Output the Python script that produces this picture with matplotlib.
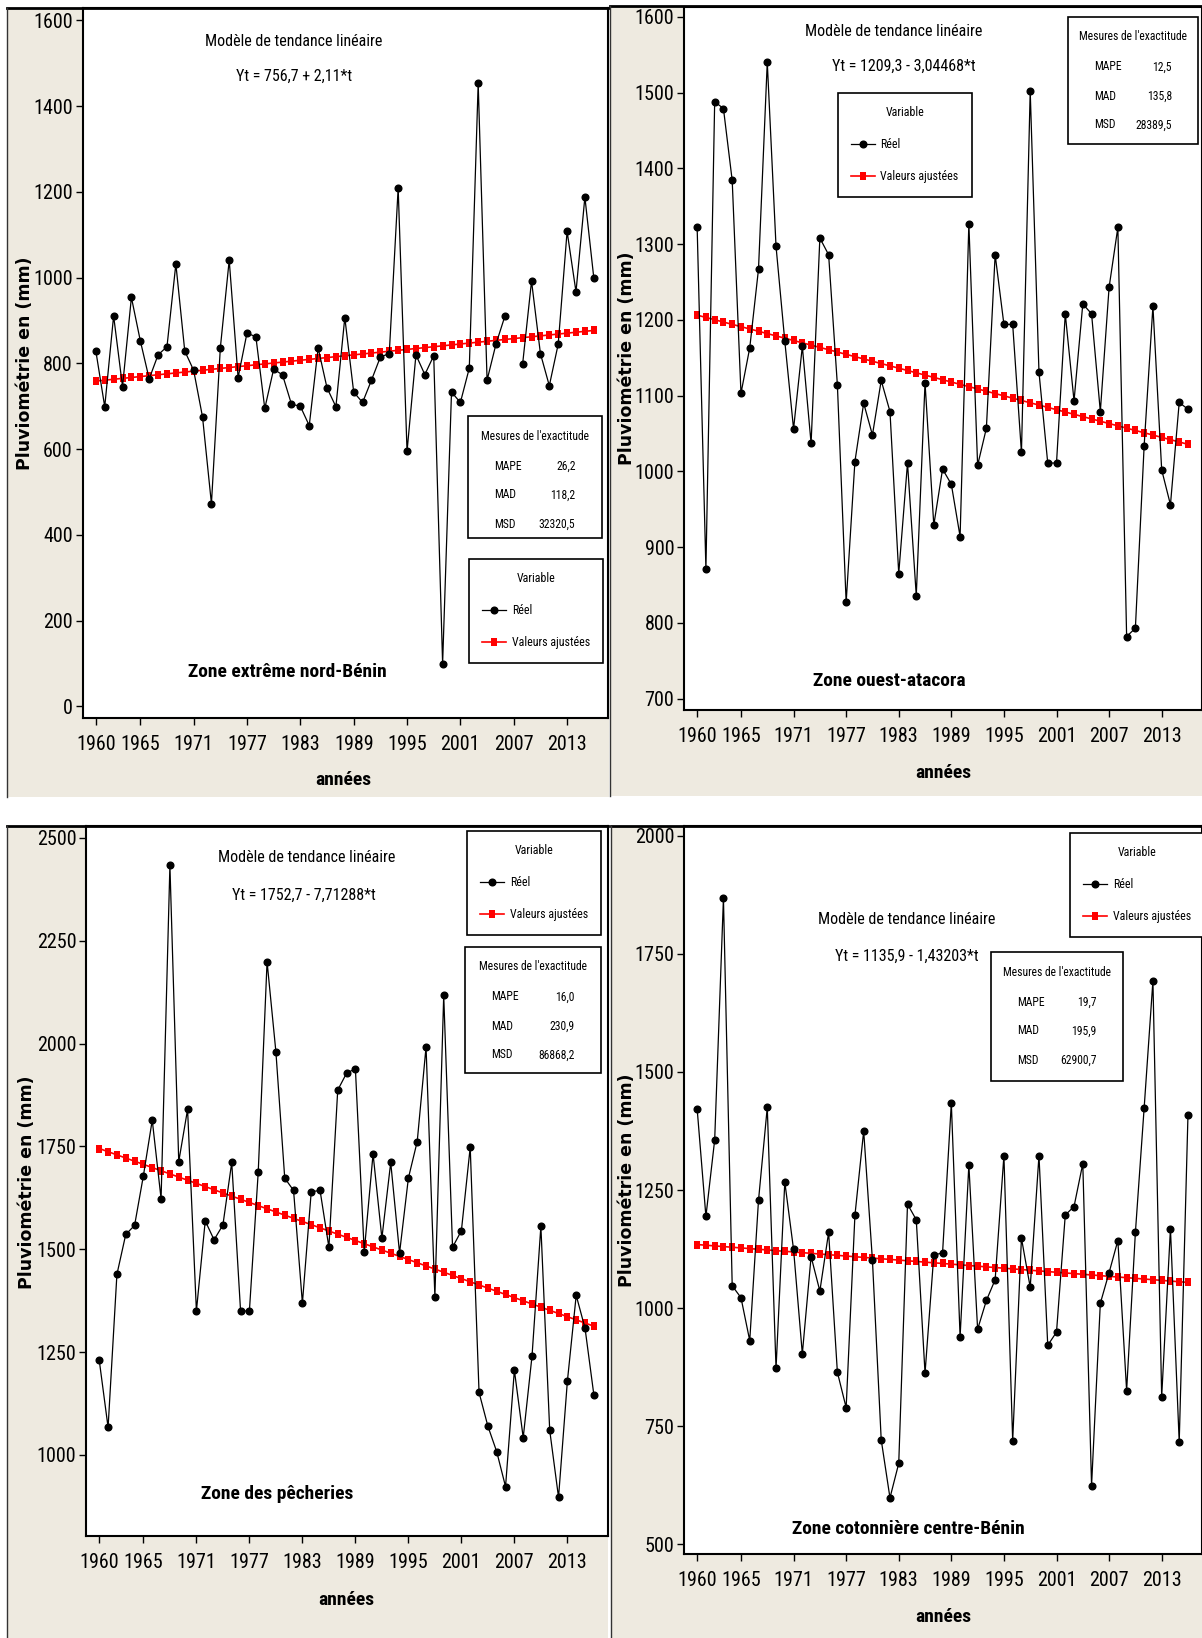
import matplotlib
matplotlib.use("Agg")
import matplotlib.pyplot as plt
import numpy as np
from matplotlib import font_manager
from matplotlib.patches import Rectangle
from matplotlib.lines import Line2D

# police étroite si disponible
installees = {f.name for f in font_manager.fontManager.ttflist}
if 'Roboto Condensed' in installees:
    police, k = 'Roboto Condensed', 1.0
elif 'Liberation Sans Narrow' in installees:
    police, k = 'Liberation Sans Narrow', 1.0
else:
    police, k = 'Liberation Sans', 0.85
plt.rcParams['font.family'] = [police, 'DejaVu Sans']

# --- Données ---
annees = np.arange(1960, 2017)
ticks_annees = [1960, 1965, 1971, 1977, 1983, 1989, 1995, 2001, 2007, 2013]

zones = ["Zone extrême nord-Bénin", "Zone ouest-atacora",
         "Zone des pêcheries", "Zone cotonnière centre-Bénin"]

# Zone extrême nord-Bénin (2007 manquant)
pluie_nord = [829, 699, 911, 746, 954, 853, 764, 820, 839, 1032,
              829, 784, 675, 473, 836, 1041, 767, 871, 862, 695,
              787, 773, 705, 700, 655, 836, 743, 699, 907, 733,
              709, 761, 815, 823, 1209, 595, 820, 774, 818, 100,
              733, 709, 789, 1453, 761, 845, 910, np.nan, 799, 992,
              823, 748, 845, 1108, 967, 1188, 1000]

pluie_atacora = [1322, 871, 1488, 1479, 1384, 1103, 1163, 1267, 1540, 1297,
                 1172, 1056, 1165, 1037, 1308, 1286, 1114, 827, 1013, 1090,
                 1048, 1120, 1079, 865, 1011, 836, 1117, 929, 1003, 983,
                 914, 1327, 1008, 1057, 1286, 1194, 1194, 1025, 1502, 1131,
                 1011, 1011, 1208, 1093, 1221, 1208, 1079, 1243, 1322, 782,
                 793, 1034, 1218, 1002, 956, 1091, 1082]

pluie_pecheries = [1230, 1067, 1439, 1536, 1558, 1679, 1814, 1623, 2433, 1713,
                   1840, 1350, 1569, 1523, 1559, 1711, 1350, 1350, 1688, 2199,
                   1980, 1673, 1643, 1369, 1640, 1643, 1505, 1887, 1928, 1939,
                   1494, 1732, 1527, 1711, 1491, 1673, 1762, 1992, 1385, 2117,
                   1505, 1545, 1748, 1152, 1070, 1008, 923, 1206, 1042, 1241,
                   1556, 1060, 897, 1179, 1388, 1308, 1146]

pluie_coton = [1422, 1194, 1356, 1868, 1047, 1022, 931, 1228, 1425, 872,
               1267, 1124, 903, 1109, 1036, 1160, 864, 789, 1196, 1375,
               1101, 721, 598, 671, 1220, 1187, 862, 1112, 1117, 1434,
               939, 1303, 955, 1016, 1060, 1323, 719, 1148, 1044, 1323,
               921, 949, 1197, 1215, 1306, 624, 1010, 1075, 1143, 825,
               1160, 1424, 1693, 812, 1168, 716, 1409]

series = [pluie_nord, pluie_atacora, pluie_pecheries, pluie_coton]

# Modèle de tendance linéaire Yt = a + b*t
intercepts = [756.7, 1209.3, 1752.7, 1135.9]
pentes = [2.11, -3.04468, -7.71288, -1.43203]
equations = ["Yt = 756,7 + 2,11*t", "Yt = 1209,3 - 3,04468*t",
             "Yt = 1752,7 - 7,71288*t", "Yt = 1135,9 - 1,43203*t"]

mape = ["26,2", "12,5", "16,0", "19,7"]
mad = ["118,2", "135,8", "230,9", "195,9"]
msd = ["32320,5", "28389,5", "86868,2", "62900,7"]

yticks = [np.arange(0, 1601, 200), np.arange(700, 1601, 100),
          np.arange(1000, 2501, 250), np.arange(500, 2001, 250)]

# --- Mise en page (pixels) ---
W, H = 1202, 1638
BEIGE = '#EEEAE0'
# petit rectangle vertical pour les valeurs ajustées
CARRE = [(-0.39, -0.5), (0.39, -0.5), (0.39, 0.5), (-0.39, 0.5), (-0.39, -0.5)]

def fx(x):
    return x / W

def fy(y):
    return 1 - y / H

panneaux = [(7, 8, 609, 797), (610, 6, 1202, 796),
            (7, 826, 608, 1638), (611, 826, 1202, 1638)]
axes_px = [(82.5, 8, 608, 718), (684, 7, 1202, 710),
           (86, 826, 608, 1536), (684, 826, 1202, 1554)]
ylims = [(-27, 1629), (685, 1613), (803, 2529), (479, 2021)]
pos_modele = [(294, 42), (894, 31), (307, 858), (907, 920)]
pos_eq = [(294, 76), (904, 66), (304, 895), (907, 956)]
pos_zone = [(287, 672), (889, 681), (277, 1494), (908, 1529)]
pos_xlab = [(343, 780), (943, 773), (346, 1600), (943, 1617)]
pos_ylab = [(25, 363), (627, 358), (27, 1182), (627, 1180)]
pos_leg = [(469, 559), (837.5, 93), (467, 831), (1070, 833)]
pos_mes = [(468, 416, 601.5, 538), (1068, 17, 1198, 144),
           (465, 947, 600.5, 1073), (991, 952, 1122.6, 1081)]

fig = plt.figure(figsize=(W / 100, H / 100), dpi=100)
fig.patch.set_facecolor('white')

for i in range(4):
    x0, y0, x1, y1 = panneaux[i]
    fig.patches.append(Rectangle((fx(x0), fy(y1)), (x1 - x0) / W, (y1 - y0) / H,
                                 transform=fig.transFigure, facecolor=BEIGE,
                                 edgecolor='none', zorder=-2))
    fig.lines.append(Line2D([fx(x0), fx(x1)], [fy(y0), fy(y0)],
                            transform=fig.transFigure, color='black', lw=2))
    fig.lines.append(Line2D([fx(x0), fx(x0)], [fy(y0), fy(y1)],
                            transform=fig.transFigure, color='#333333', lw=1))

    l, t, r, b = axes_px[i]
    ax = fig.add_axes([fx(l), fy(b), (r - l) / W, (b - t) / H])
    ax.set_facecolor('white')

    t_idx = np.arange(1, len(annees) + 1)
    ajuste = intercepts[i] + pentes[i] * t_idx

    ax.plot(annees, series[i], color='black', lw=0.9, marker='o', ms=4.8,
            label='Réel', zorder=3)
    ax.plot(annees, ajuste, color='#FF0000', lw=1.2, marker=CARRE, ms=6.2,
            markeredgewidth=0, label='Valeurs ajustées', zorder=2)

    ax.set_xlim(1958.5, 2017.6)
    ax.set_ylim(*ylims[i])
    ax.set_xticks(ticks_annees)
    ax.set_yticks(yticks[i])
    ax.tick_params(axis='both', direction='out', length=5, width=1,
                   labelsize=14.5 * k, colors='black')
    ax.tick_params(axis='x', pad=7)
    ax.tick_params(axis='y', pad=2)
    for s in ax.spines.values():
        s.set_linewidth(1.5)
        s.set_color('black')

    # textes
    fig.text(fx(pos_modele[i][0]), fy(pos_modele[i][1]), "Modèle de tendance linéaire",
             ha='center', va='center', fontsize=11.5 * k)
    fig.text(fx(pos_eq[i][0]), fy(pos_eq[i][1]), equations[i],
             ha='center', va='center', fontsize=11.5 * k)
    fig.text(fx(pos_zone[i][0]), fy(pos_zone[i][1]), zones[i],
             ha='center', va='center', fontsize=14 * k, fontweight='bold')
    fig.text(fx(pos_xlab[i][0]), fy(pos_xlab[i][1]), "années",
             ha='center', va='center', fontsize=14 * k, fontweight='bold')
    fig.text(fx(pos_ylab[i][0]), fy(pos_ylab[i][1]), "Pluviométrie en (mm)",
             ha='center', va='center', rotation=90, fontsize=12.5,
             fontweight='bold', family='DejaVu Sans')

    # légende
    leg = ax.legend(title='Variable', loc='upper left',
                    bbox_to_anchor=(fx(pos_leg[i][0]), fy(pos_leg[i][1])),
                    bbox_transform=fig.transFigure, frameon=True, fancybox=False,
                    edgecolor='black', framealpha=1, borderaxespad=0,
                    fontsize=8.6 * k, title_fontsize=8.6 * k, handlelength=2.0,
                    borderpad=1.1, labelspacing=1.6, handletextpad=0.5)
    leg.get_frame().set_linewidth(1.2)
    leg.set_zorder(6)

    # mesures de l'exactitude
    mx0, my0, mx1, my1 = pos_mes[i]
    fig.patches.append(Rectangle((fx(mx0), fy(my1)), (mx1 - mx0) / W, (my1 - my0) / H,
                                 transform=fig.transFigure, facecolor='white',
                                 edgecolor='black', lw=1.2, zorder=5))
    fig.text(fx((mx0 + mx1) / 2), fy(my0 + 20), "Mesures de l'exactitude",
             ha='center', va='center', fontsize=8.4 * k, zorder=6)
    for j, (nom, val) in enumerate(zip(["MAPE", "MAD", "MSD"],
                                       [mape[i], mad[i], msd[i]])):
        yy = my0 + 50 + 29 * j
        fig.text(fx(mx0 + 26), fy(yy), nom, ha='left', va='center',
                 fontsize=8.4 * k, zorder=6)
        fig.text(fx(mx1 - 26), fy(yy), val, ha='right', va='center',
                 fontsize=8.4 * k, zorder=6)

plt.savefig('out.png', dpi=100)
